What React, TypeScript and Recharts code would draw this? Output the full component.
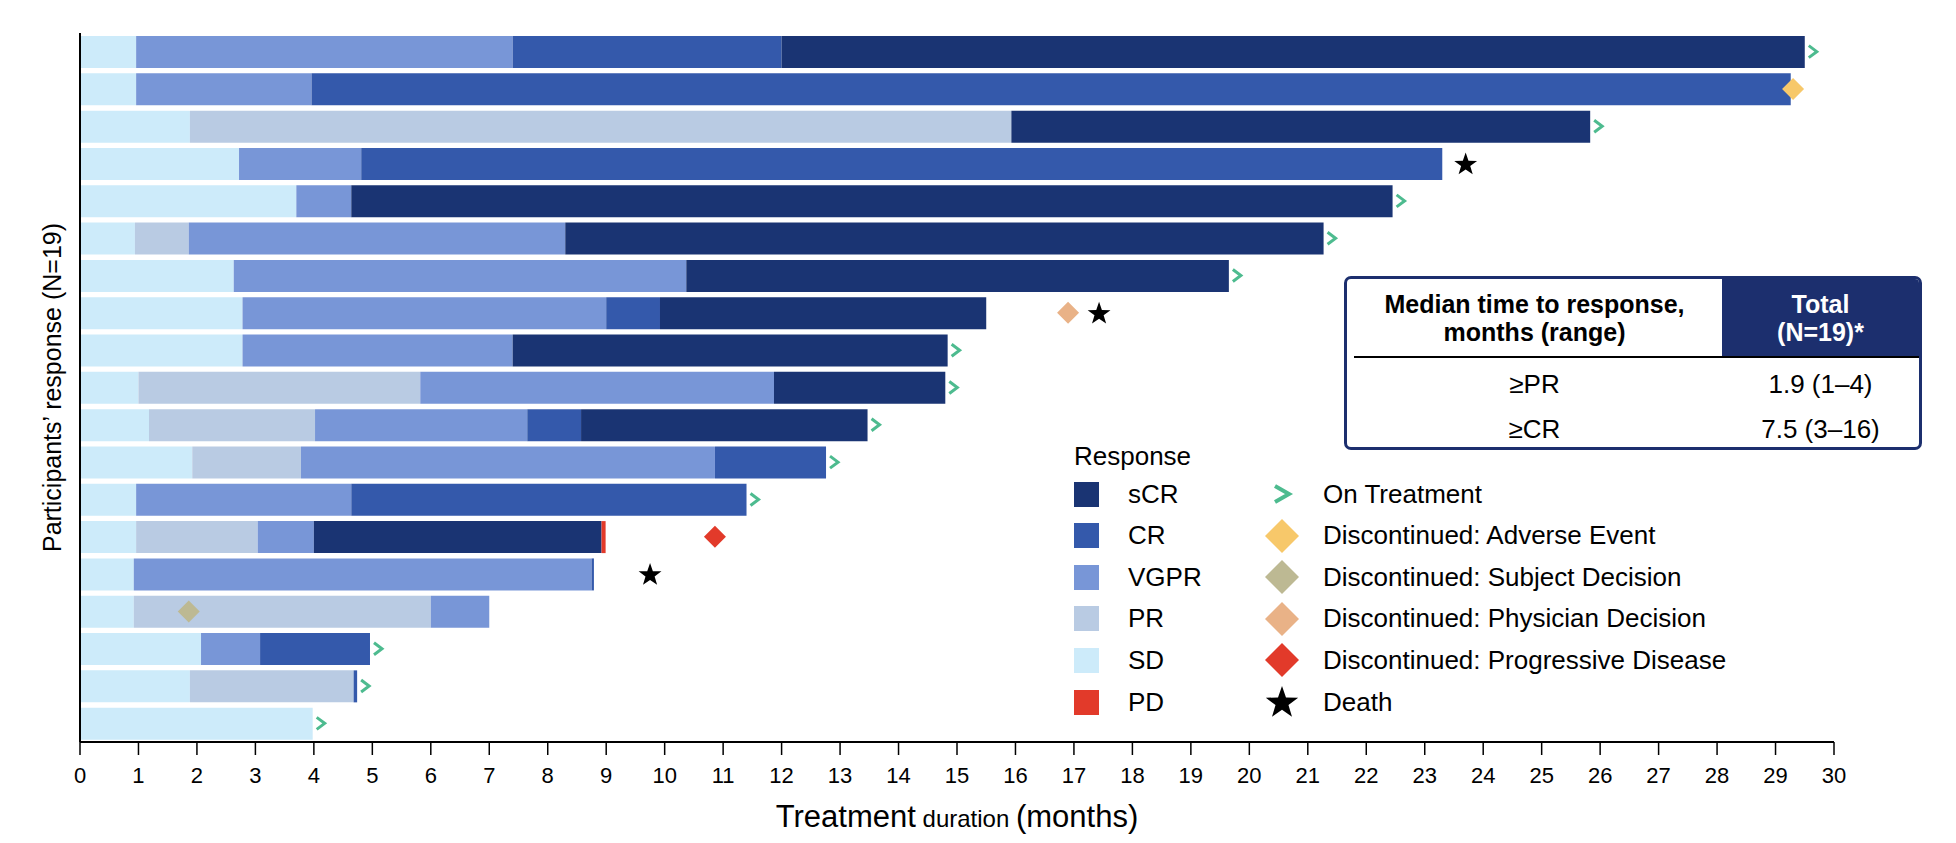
import { Bar, ComposedChart, Scatter, XAxis, YAxis } from 'recharts'

const FONT = '"Liberation Sans", Arial, Helvetica, sans-serif'

const SCR = '#1a3473'
const CR = '#3459ab'
const VGPR = '#7896d7'
const PR = '#b9cbe3'
const SD = '#cdebfa'
const PD = '#e23a2a'
const TEAL = '#4dbb8f'
const AE = '#f7c86a'
const SUBJ = '#bdb993'
const PHYS = '#e9b287'
const PROG = '#e23a2a'
const NAVY = '#1c2f6e'

// one row per participant, top to bottom
const participants = [
  'P01', 'P02', 'P03', 'P04', 'P05', 'P06', 'P07', 'P08', 'P09', 'P10',
  'P11', 'P12', 'P13', 'P14', 'P15', 'P16', 'P17', 'P18', 'P19',
]

// months spent in each response state (always in order SD > PR > VGPR > CR > sCR > PD)
const sdMonths = [0.96, 0.96, 1.88, 2.72, 3.7, 0.94, 2.63, 2.78, 2.78, 1.0, 1.18, 1.92, 0.96, 0.96, 0.92, 0.92, 2.07, 1.88, 3.98]
const prMonths = [0, 0, 14.05, 0, 0, 0.92, 0, 0, 0, 4.82, 2.84, 1.86, 0, 2.08, 0, 5.08, 0, 2.8, 0]
const vgprMonths = [6.44, 3.0, 0, 2.09, 0.94, 6.44, 7.74, 6.22, 4.62, 6.05, 3.63, 7.08, 3.68, 0.96, 7.83, 1.0, 1.01, 0, 0]
const crMonths = [4.6, 25.3, 0, 18.49, 0, 0, 0, 0.92, 0, 0, 0.92, 1.9, 6.76, 0, 0.04, 0, 1.88, 0.06, 0]
const scrMonths = [17.5, 0, 9.9, 0, 17.81, 12.97, 9.28, 5.58, 7.44, 2.93, 4.9, 0, 0, 4.92, 0, 0, 0, 0, 0]
const pdMonths = [0, 0, 0, 0, 0, 0, 0, 0, 0, 0, 0, 0, 0, 0.07, 0, 0, 0, 0, 0]

// event markers (month), null = none
const onTreatment = [29.5, null, 25.83, null, 22.45, 21.27, 19.65, null, 14.84, 14.8, 13.47, 12.76, 11.4, null, null, null, 4.96, 4.74, 3.98]
const adverseEvent = [null, 29.3, null, null, null, null, null, null, null, null, null, null, null, null, null, null, null, null, null]
const subjectDecision = [null, null, null, null, null, null, null, null, null, null, null, null, null, null, null, 1.86, null, null, null]
const physicianDecision = [null, null, null, null, null, null, null, 16.9, null, null, null, null, null, null, null, null, null, null, null]
const progressiveDisease = [null, null, null, null, null, null, null, null, null, null, null, null, null, 10.86, null, null, null, null, null]
const death = [null, null, null, 23.7, null, null, null, 17.43, null, null, null, null, null, null, 9.75, null, null, null, null]

const xTicks = [0, 1, 2, 3, 4, 5, 6, 7, 8, 9, 10, 11, 12, 13, 14, 15, 16, 17, 18, 19, 20, 21, 22, 23, 24, 25, 26, 27, 28, 29, 30]

const responseLegend = [
  { label: 'sCR', color: SCR },
  { label: 'CR', color: CR },
  { label: 'VGPR', color: VGPR },
  { label: 'PR', color: PR },
  { label: 'SD', color: SD },
  { label: 'PD', color: PD },
]

const eventLegend = [
  { label: 'On Treatment', kind: 'chevron', color: TEAL },
  { label: 'Discontinued: Adverse Event', kind: 'diamond', color: AE },
  { label: 'Discontinued: Subject Decision', kind: 'diamond', color: SUBJ },
  { label: 'Discontinued: Physician Decision', kind: 'diamond', color: PHYS },
  { label: 'Discontinued: Progressive Disease', kind: 'diamond', color: PROG },
  { label: 'Death', kind: 'star', color: '#000' },
]

const tableRows = [
  { name: '≥PR', value: '1.9 (1–4)' },
  { name: '≥CR', value: '7.5 (3–16)' },
]

const rows = participants.map((id, i) => ({
  id,
  sd: sdMonths[i],
  pr: prMonths[i],
  vgpr: vgprMonths[i],
  cr: crMonths[i],
  scr: scrMonths[i],
  pd: pdMonths[i],
  onTx: onTreatment[i],
  ae: adverseEvent[i],
  subj: subjectDecision[i],
  phys: physicianDecision[i],
  prog: progressiveDisease[i],
  death: death[i],
}))

const bad = (v: any) => v == null || Number.isNaN(v)

function starPoints(cx: number, cy: number, R: number, r: number) {
  const pts: string[] = []
  for (let k = 0; k < 10; k++) {
    const rad = k % 2 === 0 ? R : r
    const a = -Math.PI / 2 + (k * Math.PI) / 5
    pts.push(`${cx + rad * Math.cos(a)},${cy + rad * Math.sin(a)}`)
  }
  return pts.join(' ')
}

const Chevron = (props: any) => {
  const { cx, cy } = props
  if (bad(cx) || bad(cy)) return <g />
  return (
    <polyline
      points={`${cx + 4},${cy - 6} ${cx + 12},${cy} ${cx + 4},${cy + 6}`}
      fill="none"
      stroke={TEAL}
      strokeWidth={3}
    />
  )
}

const makeDiamond = (fill: string) => (props: any) => {
  const { cx, cy } = props
  if (bad(cx) || bad(cy)) return <g />
  const r = 11
  return <polygon points={`${cx},${cy - r} ${cx + r},${cy} ${cx},${cy + r} ${cx - r},${cy}`} fill={fill} />
}

const Star = (props: any) => {
  const { cx, cy } = props
  if (bad(cx) || bad(cy)) return <g />
  return <polygon points={starPoints(cx, cy + 1, 12, 4.8)} fill="#000" />
}

const XTitle = (props: any) => {
  const { viewBox } = props
  const cx = viewBox.x + viewBox.width / 2
  return (
    <text x={cx} y={viewBox.y + viewBox.height - 16} textAnchor="middle" fontFamily={FONT} fill="#000">
      <tspan fontSize={31}>Treatment</tspan>
      <tspan fontSize={24}> duration </tspan>
      <tspan fontSize={31}>(months)</tspan>
    </text>
  )
}

const YTitle = (props: any) => {
  const { viewBox } = props
  const x = viewBox.x + viewBox.width - 28
  const y = viewBox.y + viewBox.height / 2
  return (
    <text
      x={x}
      y={y}
      transform={`rotate(-90, ${x}, ${y})`}
      textAnchor="middle"
      dominantBaseline="central"
      fontFamily={FONT}
      fontSize={25}
      fill="#000"
    >
      Participants’ response (N=19)
    </text>
  )
}

function LegendSymbol({ kind, color }: { kind: string; color: string }) {
  return (
    <svg width={36} height={36} style={{ display: 'block' }}>
      {kind === 'chevron' && (
        <polyline points="11,10 25,18 11,26" fill="none" stroke={color} strokeWidth={4} />
      )}
      {kind === 'diamond' && <polygon points="18,1 35,18 18,35 1,18" fill={color} />}
      {kind === 'star' && <polygon points={starPoints(18, 19, 17, 6.8)} fill={color} />}
    </svg>
  )
}

function ChartLegend() {
  const rowTop = (i: number) => 494 + i * 41.6 - 18
  return (
    <div style={{ position: 'absolute', left: 0, top: 0, fontFamily: FONT, fontSize: 26, color: '#000' }}>
      <div style={{ position: 'absolute', left: 1074, top: 441, lineHeight: '30px' }}>Response</div>
      {responseLegend.map((r, i) => (
        <div key={r.label} style={{ position: 'absolute', left: 1074, top: rowTop(i), height: 36, display: 'flex', alignItems: 'center', whiteSpace: 'nowrap' }}>
          <span style={{ display: 'inline-block', width: 25, height: 25, background: r.color }} />
          <span style={{ marginLeft: 29 }}>{r.label}</span>
        </div>
      ))}
      {eventLegend.map((e, i) => (
        <div key={e.label} style={{ position: 'absolute', left: 1264, top: rowTop(i), height: 36, display: 'flex', alignItems: 'center', whiteSpace: 'nowrap' }}>
          <LegendSymbol kind={e.kind} color={e.color} />
          <span style={{ marginLeft: 23 }}>{e.label}</span>
        </div>
      ))}
    </div>
  )
}

function MedianTable() {
  return (
    <div
      style={{
        position: 'absolute',
        left: 1344,
        top: 276,
        width: 578,
        height: 174,
        boxSizing: 'border-box',
        border: `3px solid ${NAVY}`,
        borderRadius: 7,
        overflow: 'hidden',
        fontFamily: FONT,
        fontSize: 25,
        color: '#000',
        background: '#fff',
      }}
    >
      <div style={{ position: 'absolute', left: 0, top: 0, width: 375, height: 77, display: 'flex', alignItems: 'center', justifyContent: 'center', textAlign: 'center', fontWeight: 700, lineHeight: '28px' }}>
        Median time to response,<br />months (range)
      </div>
      <div style={{ position: 'absolute', left: 375, top: 0, right: 0, height: 77, background: NAVY, color: '#fff', display: 'flex', alignItems: 'center', justifyContent: 'center', textAlign: 'center', fontWeight: 700, lineHeight: '28px' }}>
        Total<br />(N=19)*
      </div>
      <div style={{ position: 'absolute', left: 7, right: 0, top: 77, height: 2, background: '#000' }} />
      {tableRows.map((r, i) => (
        <div key={r.name} style={{ position: 'absolute', left: 0, right: 0, top: 90 + i * 45, height: 30, lineHeight: '30px', fontSize: 26 }}>
          <span style={{ position: 'absolute', left: 0, width: 375, textAlign: 'center' }}>{r.name}</span>
          <span style={{ position: 'absolute', left: 375, right: 0, textAlign: 'center' }}>{r.value}</span>
        </div>
      ))}
    </div>
  )
}

export default function App() {
  return (
    <div style={{ position: 'absolute', left: 0, top: 0, width: 1956, height: 843, background: '#fff' }}>
      <ComposedChart
        width={1956}
        height={843}
        data={rows}
        layout="vertical"
        margin={{ top: 33, right: 122, bottom: 0, left: 0 }}
      >
        <XAxis
          type="number"
          domain={[0, 30]}
          ticks={xTicks}
          interval={0}
          height={101}
          tickSize={13}
          tickMargin={12}
          axisLine={{ stroke: '#000', strokeWidth: 2 }}
          tickLine={{ stroke: '#000', strokeWidth: 1.5 }}
          tick={{ fill: '#000', fontSize: 22, fontFamily: FONT }}
          label={{ content: XTitle }}
        />
        <YAxis
          type="category"
          dataKey="id"
          width={80}
          tick={false}
          tickLine={false}
          axisLine={{ stroke: '#000', strokeWidth: 2 }}
          label={{ content: YTitle }}
        />
        <Bar dataKey="sd" stackId="r" fill={SD} barSize={32} isAnimationActive={false} />
        <Bar dataKey="pr" stackId="r" fill={PR} barSize={32} isAnimationActive={false} />
        <Bar dataKey="vgpr" stackId="r" fill={VGPR} barSize={32} isAnimationActive={false} />
        <Bar dataKey="cr" stackId="r" fill={CR} barSize={32} isAnimationActive={false} />
        <Bar dataKey="scr" stackId="r" fill={SCR} barSize={32} isAnimationActive={false} />
        <Bar dataKey="pd" stackId="r" fill={PD} barSize={32} isAnimationActive={false} />
        <Scatter dataKey="onTx" shape={Chevron} isAnimationActive={false} />
        <Scatter dataKey="ae" shape={makeDiamond(AE)} isAnimationActive={false} />
        <Scatter dataKey="subj" shape={makeDiamond(SUBJ)} isAnimationActive={false} />
        <Scatter dataKey="phys" shape={makeDiamond(PHYS)} isAnimationActive={false} />
        <Scatter dataKey="prog" shape={makeDiamond(PROG)} isAnimationActive={false} />
        <Scatter dataKey="death" shape={Star} isAnimationActive={false} />
      </ComposedChart>
      <ChartLegend />
      <MedianTable />
    </div>
  )
}
